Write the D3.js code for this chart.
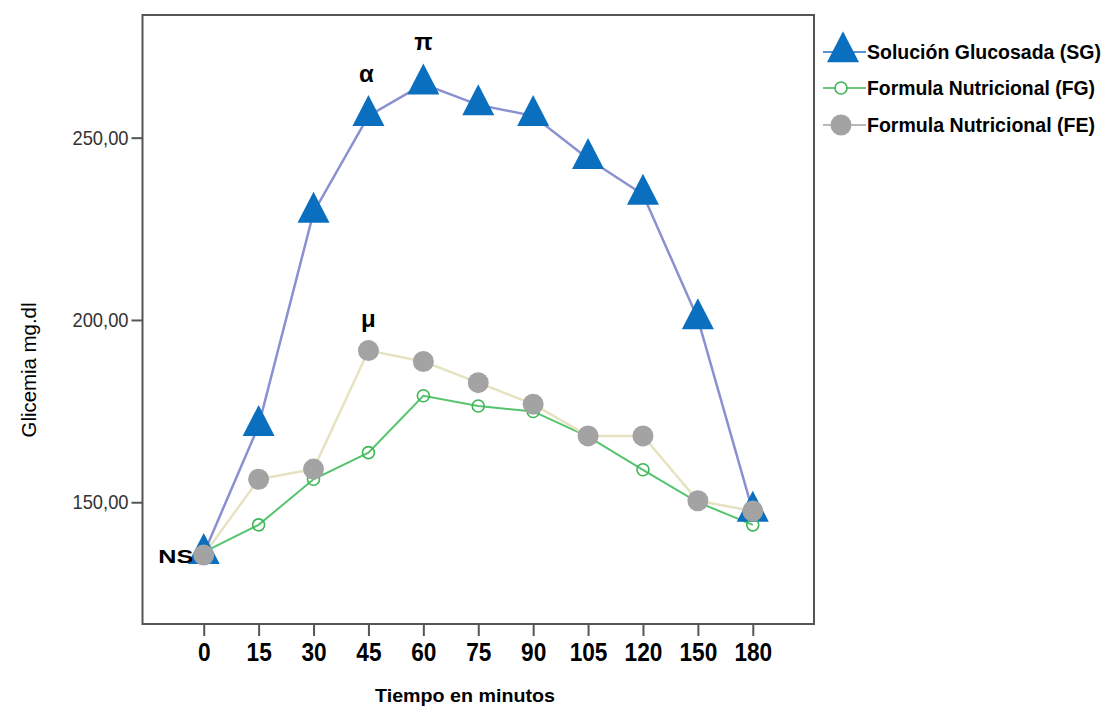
<!DOCTYPE html>
<html>
<head>
<meta charset="utf-8">
<script src="https://cdn.jsdelivr.net/npm/d3@7"></script>
<style>
  body { margin: 0; background: #fff; }
  svg { display: block; font-family: "Liberation Sans", Arial, sans-serif; }
</style>
</head>
<body>
<div id="chart"></div>
<script>
const Width = 1113;
const Height = 715;

// data
const times = ["0", "15", "30", "45", "60", "75", "90", "105", "120", "150", "180"];
const solucionSG = [135.9, 171.0, 229.5, 256.0, 264.7, 259.0, 256.0, 244.2, 234.4, 200.3, 147.5];
const formulaFG = [136.3, 143.8, 156.3, 163.6, 179.2, 176.4, 174.9, 168.0, 158.9, 150.0, 143.8];
const formulaFE = [135.5, 156.3, 159.1, 191.6, 188.6, 182.8, 176.9, 168.2, 168.2, 150.4, 147.6];
const yTicks = [150, 200, 250];
const seriesNames = ["Solución Glucosada (SG)", "Formula Nutricional (FG)", "Formula Nutricional (FE)"];
const marks = [
  { text: "π", series: 0, time: "60" },
  { text: "α", series: 0, time: "45" },
  { text: "μ", series: 2, time: "45" },
  { text: "NS", series: 0, time: "0" }
];

const plot = { left: 142.5, right: 814, top: 15, bottom: 624 };

const svg = d3.select("#chart").append("svg").attr("width", Width).attr("height", Height);

const x = d3.scalePoint().domain(times).range([plot.left, plot.right]).padding(1.115);
const y = d3.scaleLinear().domain([116.6, 283.65]).range([plot.bottom, plot.top]);

const allSeries = [solucionSG, formulaFG, formulaFE].map(vals => times.map((t, i) => ({ t, v: vals[i] })));

// frame
svg.append("rect")
  .attr("x", plot.left).attr("y", plot.top)
  .attr("width", plot.right - plot.left).attr("height", plot.bottom - plot.top)
  .attr("fill", "none").attr("stroke", "#555").attr("stroke-width", 2);

// x axis
const xAxis = svg.append("g")
  .attr("transform", `translate(0,${plot.bottom})`)
  .call(d3.axisBottom(x).tickSize(12).tickPadding(6));
xAxis.select(".domain").remove();
xAxis.selectAll(".tick line").attr("stroke", "#555").attr("stroke-width", 2);
xAxis.selectAll(".tick text")
  .attr("dy", null).attr("y", 37)
  .attr("fill", "#000").attr("font-size", 25).attr("font-weight", "bold")
  .attr("font-family", "Liberation Sans, Arial, sans-serif")
  .attr("textLength", d => d.length * 12.6).attr("lengthAdjust", "spacingAndGlyphs");

// y axis
const yAxis = svg.append("g")
  .attr("transform", `translate(${plot.left},0)`)
  .call(d3.axisLeft(y).tickValues(yTicks).tickSize(11).tickPadding(3)
    .tickFormat(d => d3.format(".2f")(d).replace(".", ",")));
yAxis.select(".domain").remove();
yAxis.selectAll(".tick line").attr("stroke", "#555").attr("stroke-width", 2);
yAxis.selectAll(".tick text")
  .attr("fill", "#333").attr("font-size", 21)
  .attr("font-family", "Liberation Sans, Arial, sans-serif")
  .attr("textLength", 56).attr("lengthAdjust", "spacingAndGlyphs");

// axis titles
svg.append("text")
  .attr("x", 465).attr("y", 702)
  .attr("text-anchor", "middle").attr("font-size", 19).attr("font-weight", "bold")
  .attr("textLength", 180).attr("lengthAdjust", "spacingAndGlyphs")
  .text("Tiempo en minutos");

svg.append("text")
  .attr("transform", "translate(36,370) rotate(-90)")
  .attr("text-anchor", "middle").attr("font-size", 21)
  .attr("textLength", 135).attr("lengthAdjust", "spacingAndGlyphs")
  .text("Glicemia mg.dl");

// lines
const line = d3.line().x(d => x(d.t)).y(d => y(d.v));
const lineColors = ["#8a90d0", "#55c46e", "#e6e2c2"];
const lineWidths = [2.5, 2, 2.5];
allSeries.forEach((s, i) => {
  svg.append("path")
    .attr("d", line(s))
    .attr("fill", "none")
    .attr("stroke", lineColors[i])
    .attr("stroke-width", lineWidths[i]);
});

// markers
const triangle = "M0,-20.7 L16,10.3 L-16,10.3 Z";
const drawMarker = (g, kind) => {
  if (kind === 0) {
    g.append("path").attr("d", triangle).attr("fill", "#0b6fc0");
  } else if (kind === 1) {
    g.append("circle").attr("r", 6).attr("fill", "none")
      .attr("stroke", "#3cb554").attr("stroke-width", 1.6);
  } else {
    g.append("circle").attr("r", 10.5).attr("fill", "#a3a3a3");
  }
};

allSeries.forEach((s, i) => {
  s.forEach(d => {
    const g = svg.append("g").attr("transform", `translate(${x(d.t)},${y(d.v)})`);
    drawMarker(g, i);
  });
});

// significance marks
const markOffsets = { "π": [0, -34], "α": [-2, -34], "μ": [0, -24], "NS": [-28, 9] };
marks.forEach(m => {
  const v = [solucionSG, formulaFG, formulaFE][m.series][times.indexOf(m.time)];
  const off = markOffsets[m.text];
  const t = svg.append("text")
    .attr("x", x(m.time) + off[0]).attr("y", y(v) + off[1])
    .attr("text-anchor", "middle")
    .attr("font-weight", "bold")
    .attr("font-size", m.text === "NS" ? 19 : 24)
    .text(m.text);
  if (m.text === "NS") t.attr("textLength", 35).attr("lengthAdjust", "spacingAndGlyphs");
});

// legend
const legendRows = [52, 88, 125];
const legendLens = [234, 228, 228];
const legendLineColors = ["#1f6fbf", "#3cb554", "#a3a3a3"];
seriesNames.forEach((name, i) => {
  const g = svg.append("g").attr("transform", `translate(823,${legendRows[i]})`);
  g.append("line").attr("x1", 0).attr("x2", 43).attr("y1", 0).attr("y2", 0)
    .attr("stroke", legendLineColors[i]).attr("stroke-width", 1.6);
  const mg = g.append("g").attr("transform", `translate(${i === 0 ? 20 : 18},0)`);
  drawMarker(mg, i);
  if (i === 1) mg.select("circle").attr("fill", "#fff");
  g.append("text")
    .attr("x", 44).attr("y", 7)
    .attr("font-size", 19.5).attr("font-weight", "bold")
    .attr("textLength", legendLens[i]).attr("lengthAdjust", "spacingAndGlyphs")
    .text(name);
});
</script>
</body>
</html>
